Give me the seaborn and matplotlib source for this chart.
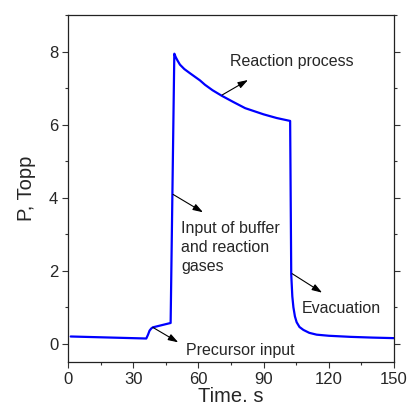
import matplotlib
matplotlib.use("Agg")
import matplotlib.pyplot as plt
from matplotlib.ticker import MultipleLocator
import seaborn as sns
import pandas as pd

# pressure trace
time_s = [1.2, 36.0, 36.8, 37.5, 38.3, 39.0, 47.2, 48.9, 49.6, 50.4, 51.5, 53.5, 56.0,
          60.7, 63.0, 66.5, 70.7, 76.0, 81.5, 90.0, 96.0, 102.2, 102.7, 103.2, 103.7,
          104.4, 105.2, 106.5, 108.3, 111.0, 114.4, 120.0, 130.0, 140.0, 150.0]
pressure = [0.20, 0.145, 0.25, 0.36, 0.42, 0.45, 0.57, 7.94, 7.84, 7.75, 7.64, 7.52, 7.41,
            7.21, 7.09, 6.94, 6.79, 6.62, 6.45, 6.28, 6.18, 6.10, 1.90, 1.30, 1.00,
            0.75, 0.59, 0.46, 0.38, 0.30, 0.25, 0.22, 0.19, 0.17, 0.155]

notes = ["Reaction process", "Input of buffer\nand reaction\ngases", "Evacuation", "Precursor input"]
arrow_tail = [(70.9, 6.81), (48.3, 4.09), (103.1, 1.92), (39.0, 0.45)]
arrow_head = [(82.8, 7.22), (62.1, 3.60), (116.9, 1.40), (50.7, 0.04)]
text_pos = [(74.5, 7.72), (52.0, 2.64), (107.7, 0.96), (54.3, -0.19)]

df = pd.DataFrame({"t": time_s, "p": pressure})

sns.set_style("ticks")
plt.rcParams["font.family"] = ["Liberation Sans", "DejaVu Sans"]

fig = plt.figure(figsize=(4.1, 4.05), dpi=100)
ax = fig.add_axes([0.166, 0.106, 0.795, 0.857])

sns.lineplot(data=df, x="t", y="p", color="#0000ff", linewidth=1.6, ax=ax)

for txt, tail, head, pos in zip(notes, arrow_tail, arrow_head, text_pos):
    ax.annotate("", xy=head, xytext=tail,
                arrowprops=dict(arrowstyle="-|>,head_length=0.6,head_width=0.2",
                                color="black", lw=0.8, shrinkA=0, shrinkB=0))
    ax.text(pos[0], pos[1], txt, fontsize=11.5, va="center", ha="left",
            linespacing=1.35)

ax.set_xlim(0, 150)
ax.set_ylim(-0.5, 9)
ax.xaxis.set_major_locator(MultipleLocator(30))
ax.xaxis.set_minor_locator(MultipleLocator(15))
ax.yaxis.set_major_locator(MultipleLocator(2))
ax.yaxis.set_minor_locator(MultipleLocator(1))
ax.tick_params(which="major", length=4, width=0.8, labelsize=12, pad=3, color="#333333")
ax.tick_params(which="minor", length=2.5, width=0.8, color="#333333")
ax.tick_params(which="both", right=True, labelright=False)

for s in ax.spines.values():
    s.set_linewidth(0.9)
    s.set_color("#222222")

ax.set_xlabel("Time. s", fontsize=14.5, labelpad=0)
ax.set_ylabel("P, Topp", fontsize=14.5, labelpad=9)

fig.savefig("out.png", dpi=100)
